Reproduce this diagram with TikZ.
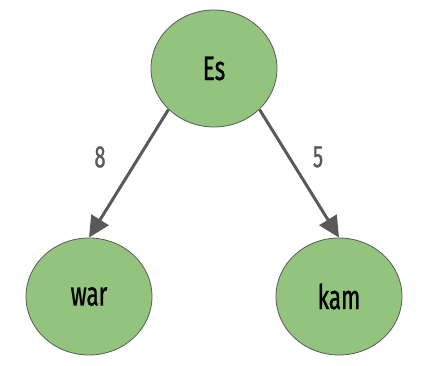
\documentclass[tikz,border=0pt]{standalone}
\usepackage{fontspec}
\setmainfont{Fira Sans}[FakeStretch=0.66,FakeBold=0.8]
\usetikzlibrary{arrows.meta,shapes.geometric}
\definecolor{nodegreen}{HTML}{93C47D}
\definecolor{edgegray}{HTML}{595959}
\begin{document}
\begin{tikzpicture}[x=1pt,y=-1pt,
  word/.style={ellipse, draw=edgegray, line width=0.8pt, fill=nodegreen,
    minimum width=126pt, minimum height=117pt, inner sep=0pt,
    font=\fontsize{34}{40}\selectfont},
  edge/.style={draw=edgegray, line width=3pt,
    -{Triangle[length=21pt,width=20pt]}},
  weight/.style={text=edgegray, font=\fontsize{31}{36}\selectfont}]
\useasboundingbox (0,0) rectangle (425,366);
\node[word] (es) at (214,68.5) {Es};
\node[word] (war) at (89,296.5) {war};
\node[word] (kam) at (339,296.5) {kam};
\draw[edge] (es.222) -- (war.north);
\draw[edge] (es.318) -- (kam.north);
\node[weight] (w8) at (100,157) {8};
\node[weight] (w5) at (318,157) {5};
\end{tikzpicture}
\end{document}
